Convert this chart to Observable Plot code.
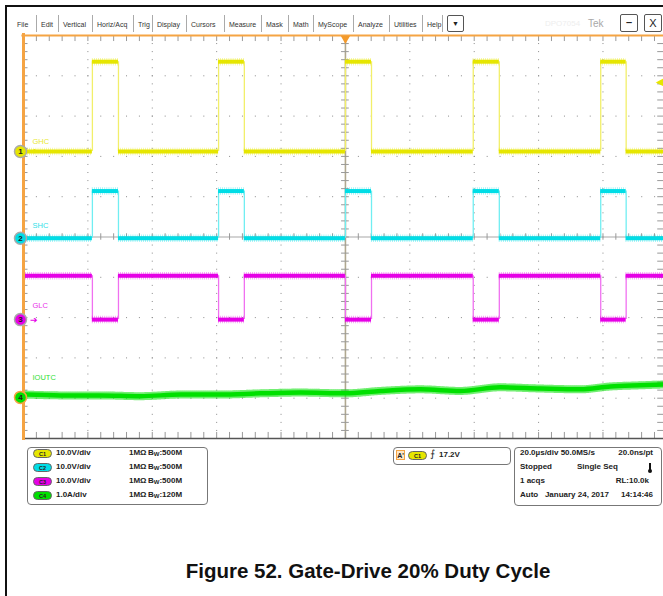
<!DOCTYPE html>
<html><head><meta charset="utf-8">
<script src="https://cdn.jsdelivr.net/npm/d3@7"></script>
<script src="https://cdn.jsdelivr.net/npm/@observablehq/plot@0.6"></script>
<style>
html,body{margin:0;padding:0;background:#fff;overflow:hidden;}
#page{position:relative;width:663px;height:596px;font-family:"Liberation Sans",Arial,sans-serif;background:#fff;}
#chart{position:absolute;left:0;top:0;}
#chart svg{overflow:visible;background:transparent;}
.abs{position:absolute;white-space:nowrap;}
.menu{font-size:7px;color:#333;top:20px;line-height:9px;}
.sep{position:absolute;top:15px;width:1px;height:17px;background:#aaa;}
.box{position:absolute;border:1px solid #777;border-radius:4px;}
.ro{font-size:8px;font-weight:bold;color:#222;line-height:10px;}
.badge{position:absolute;width:19px;height:9px;border-radius:5px;font-size:5.5px;line-height:9px;text-align:center;color:#222;border:1px solid #666;box-sizing:border-box;font-weight:bold;}
</style></head><body>
<div id="page">
  <div id="chart"></div>
  <div id="overlay"></div>
</div>
<script>
// ---------------- data ----------------
const menuItems = ["File","Edit","Vertical","Horiz/Acq","Trig","Display","Cursors","Measure","Mask","Math","MyScope","Analyze","Utilities","Help"];
const channelNames = ["GHC","SHC","GLC","IOUTC"];
const channelNumbers = ["1","2","3","4"];
const channelColors = ["#e6e600","#00dde6","#e600e6","#00e000"];
const edgeColors = ["#f2ef6a","#70eef2","#f070f0","#00e000"];
const labelColors = ["#e8e830","#30e0e8","#e830e8","#30e030"];
const unitsPerDiv = [10, 10, 10, 1];              // V/div, V/div, V/div, A/div
const channelOffsetDiv = [2.12, -0.03, -2.05, -3.98]; // ground marker position, divisions
const timeDomain = [-100, 98.8];                   // µs shown (20 µs/div)
const pulseRise = [-78.6, -39.4, 0, 39.7, 79.3];  // µs
const pulseFall = [-70.5, -31.4, 8.1, 47.8, 87.2]; // µs
const ghcLevels = [0, 22.3];   // V low, high
const shcLevels = [0, 11.7];   // V low, high
const glcLevels = [10.9, 0];   // V outside pulse, inside pulse
const ioutTime = [-99.4,-88.5,-76,-63.7,-51.2,-38.8,-26.4,-14,0,10.9,23.3,35.7,48.1,60.6,73,82.3,91.6,98.8];
const ioutAmps = [0.07,0.05,0.05,0.03,0.07,0.07,0.10,0.12,0.10,0.16,0.20,0.16,0.25,0.22,0.20,0.27,0.30,0.32];
const triggerLevel = 17.2;     // V on C1
const gridTimes = [-80,-60,-40,-20,20,40,60,80];
const gridDivs = [-4,-3,-2,-1,1,2,3,4];
const leftReadout = [["C1","10.0V/div","500M"],["C2","10.0V/div","500M"],["C3","10.0V/div","500M"],["C4","1.0A/div","120M"]];
const caption = "Figure 52. Gate-Drive 20% Duty Cycle";

// ---------------- helpers ----------------
const pxPerDiv = 40.3;
const toDiv = (ch, v) => channelOffsetDiv[ch] + v / unitsPerDiv[ch];
function levelSegments(ch, outside, inside) {
  const segs = []; let t = timeDomain[0];
  pulseRise.forEach((r, i) => {
    segs.push({x1: t, x2: r, y: toDiv(ch, outside)});
    segs.push({x1: r, x2: pulseFall[i], y: toDiv(ch, inside)});
    t = pulseFall[i];
  });
  segs.push({x1: t, x2: timeDomain[1], y: toDiv(ch, outside)});
  return segs;
}
function edgeSegments(ch, a, b) {
  return pulseRise.concat(pulseFall).map(x => ({x, y1: toDiv(ch, a), y2: toDiv(ch, b)}));
}
const levelCh = [[0, ghcLevels],[1, shcLevels],[2, glcLevels]];
const iout = ioutTime.map((t, i) => ({x: t, y: toDiv(3, ioutAmps[i])}));
const minorT = d3.range(-96, 97, 4);
const minorD = d3.range(-4.8, 4.81, 0.2);
const markers = channelNumbers.map((n, i) => ({n, i, y: channelOffsetDiv[i]}));
const labelLiftPx = [10, 13, 14, 20];
const labels = channelNames.map((name, i) => ({name, i, y: channelOffsetDiv[i] + labelLiftPx[i] / pxPerDiv}));

const marks = [];
// grid
marks.push(Plot.ruleX(gridTimes, {stroke: "#8a8a8a", strokeWidth: 1, strokeDasharray: "1,7.06"}));
marks.push(Plot.ruleY(gridDivs, {stroke: "#8a8a8a", strokeWidth: 1, strokeDasharray: "1,11.88"}));
// center cross with ticks
marks.push(Plot.ruleX([0], {stroke: "#b0a890", strokeWidth: 1.6}));
marks.push(Plot.ruleY([0], {stroke: "#a8a8a8", strokeWidth: 1.2}));
marks.push(Plot.ruleX(minorT, {y1: -0.08, y2: 0.08, stroke: "#999", strokeWidth: 1}));
marks.push(Plot.ruleY(minorD, {x1: -1.2, x2: 1.2, stroke: "#999", strokeWidth: 1}));
// edge ticks
marks.push(Plot.ruleX(minorT, {y1: 5, y2: 4.85, stroke: "#999", strokeWidth: 1}));
marks.push(Plot.ruleX(minorT, {y1: -5, y2: -4.85, stroke: "#999", strokeWidth: 1}));
marks.push(Plot.ruleY(minorD, {x1: -100, x2: -98.6, stroke: "#999", strokeWidth: 1}));
marks.push(Plot.ruleY(minorD, {x1: 97.0, x2: 98.8, stroke: "#999", strokeWidth: 1}));
// traces
levelCh.forEach(([ch, lv]) => {
  marks.push(Plot.ruleX(edgeSegments(ch, lv[0], lv[1]), {x: "x", y1: "y1", y2: "y2", stroke: edgeColors[ch], strokeWidth: 1.3}));
  const segs = levelSegments(ch, lv[0], lv[1]);
  marks.push(Plot.ruleY(segs, {x1: "x1", x2: "x2", y: "y", stroke: channelColors[ch], strokeWidth: 4}));
  marks.push(Plot.ruleY(segs, {x1: "x1", x2: "x2", y: "y", stroke: channelColors[ch], strokeWidth: 7.5, strokeDasharray: "0.6,1.5", strokeOpacity: 0.55}));
});
marks.push(Plot.line(iout, {x: "x", y: "y", stroke: channelColors[3], strokeWidth: 4.5, curve: "monotone-x"}));
marks.push(Plot.line(iout, {x: "x", y: "y", stroke: channelColors[3], strokeWidth: 8, curve: "monotone-x", strokeDasharray: "0.6,1.5", strokeOpacity: 0.55}));
// frame
marks.push(Plot.ruleY([-5], {stroke: "#555", strokeWidth: 1.5}));
marks.push(Plot.ruleY([5], {x1: -100.5, x2: 98.8, stroke: "#f5a443", strokeWidth: 2.2}));
marks.push(Plot.ruleX([-100], {y1: -5.05, y2: 5.05, stroke: "#f5a443", strokeWidth: 3}));
// trigger markers
marks.push(Plot.dot([0], {x: d => d, y: 5, symbol: "triangle", r: 3.5, rotate: 180, fill: "#f39a2b", stroke: "none", dy: 3}));
marks.push(Plot.text([triggerLevel], {x: timeDomain[1], y: d => toDiv(0, d), text: () => "◀", fill: channelColors[0], fontSize: 10, textAnchor: "end"}));
// channel labels
marks.push(Plot.text(labels, {x: -100, y: "y", text: "name", dx: 9, fill: d => labelColors[d.i], fontSize: 7.5, textAnchor: "start"}));
// channel markers
marks.push(Plot.text([markers[0], markers[2]], {x: -100, y: "y", text: () => "➔", dx: 10, fill: d => channelColors[d.i], fontSize: 9}));
marks.push(Plot.dot(markers, {x: -100, y: "y", r: 6, dx: -3, fill: d => channelColors[d.i], stroke: d => d.i === 3 ? "#f5a443" : "#aaa", strokeWidth: 1.5}));
marks.push(Plot.text(markers, {x: -100, y: "y", text: "n", dx: -3, fill: "#222", fontSize: 8, fontWeight: "bold"}));

const chart = Plot.plot({
  width: 663, height: 445,
  marginLeft: 23, marginRight: 0, marginTop: 35, marginBottom: 7,
  x: {domain: timeDomain, axis: null},
  y: {domain: [-5, 5], axis: null},
  style: {background: "transparent", fontFamily: "Liberation Sans, Arial, sans-serif"},
  marks
});
document.getElementById("chart").appendChild(chart);

// ---------------- overlay html ----------------
const ov = document.getElementById("overlay");
function add(html) { ov.insertAdjacentHTML("beforeend", html); }
// page frame
add('<div class="abs" style="left:6px;top:5px;width:657px;height:1.5px;background:#111"></div>');
add('<div class="abs" style="left:5px;top:5px;width:1.5px;height:591px;background:#111"></div>');
// menu bar
const menuX = [17,41,63,97,138,157,191,229,266,293,318,358,394,427];
menuItems.forEach((m, i) => {
  add(`<div class="abs menu" style="left:${menuX[i]}px">${m}</div>`);
  const sx = (i < menuItems.length - 1 ? menuX[i+1] : 447) - 5;
  add(`<div class="sep" style="left:${sx}px"></div>`);
});
add('<div class="abs" style="left:447px;top:15px;width:15px;height:15px;border:1px solid #555;border-radius:2px;font-size:7px;line-height:15px;text-align:center;color:#222">▼</div>');
add('<div class="abs" style="left:545px;top:19px;font-size:8px;color:#eee">DPO7054</div>');
add('<div class="abs" style="left:588px;top:18px;font-size:10px;color:#a8a8a8">Tek</div>');
add('<div class="abs" style="left:620px;top:14px;width:16px;height:16px;border:1px solid #555;border-radius:2px;font-size:11px;line-height:14px;text-align:center;color:#222;font-weight:bold">–</div>');
add('<div class="abs" style="left:644px;top:14px;width:16px;height:16px;border:1px solid #555;border-radius:2px;font-size:11px;line-height:16px;text-align:center;color:#222">X</div>');

// left readout
add('<div class="box" style="left:27px;top:447px;width:179px;height:56px"></div>');
leftReadout.forEach((r, i) => {
  const y = 448 + i * 14;
  add(`<div class="badge" style="left:33px;top:${y+1}px;background:${channelColors[i]}">${r[0]}</div>`);
  add(`<div class="abs ro" style="left:56px;top:${y}px">${r[1]}</div>`);
  add(`<div class="abs ro" style="left:129px;top:${y}px">1MΩ</div>`);
  add(`<div class="abs ro" style="left:148px;top:${y}px">B<sub style="font-size:6px;vertical-align:-1px">W</sub>:${r[2]}</div>`);
});
// trigger readout
add('<div class="box" style="left:393px;top:447px;width:116px;height:16px"></div>');
add('<div class="abs ro" style="left:396px;top:450px;width:9px;height:10px;border:1px solid #f5a443;background:#fde7c7;font-size:7px;line-height:10px;text-align:center;box-sizing:border-box">A\'</div>');
add(`<div class="badge" style="left:408px;top:451px;background:${channelColors[0]}">C1</div>`);
add('<div class="abs ro" style="left:430px;top:449px;font-size:10px;font-weight:normal">⨍</div>');
add(`<div class="abs ro" style="left:439px;top:450px">${triggerLevel.toFixed(1)}V</div>`);
// acquisition readout
add('<div class="box" style="left:514px;top:447px;width:146px;height:57px"></div>');
add('<div class="abs ro" style="left:520px;top:448px">20.0µs/div 50.0MS/s</div>');
add('<div class="abs ro" style="right:10px;top:448px">20.0ns/pt</div>');
add('<div class="abs ro" style="left:520px;top:462px">Stopped</div>');
add('<div class="abs ro" style="left:577px;top:462px">Single Seq</div>');
add('<div class="abs" style="left:649px;top:463px;width:2px;height:8px;background:#111"></div>');
add('<div class="abs" style="left:648px;top:469px;width:4px;height:4px;border-radius:2px;background:#111"></div>');
add('<div class="abs ro" style="left:520px;top:476px">1 acqs</div>');
add('<div class="abs ro" style="right:14px;top:476px">RL:10.0k</div>');
add('<div class="abs ro" style="left:520px;top:490px">Auto&nbsp;&nbsp;&nbsp;January 24, 2017</div>');
add('<div class="abs ro" style="right:10px;top:490px">14:14:46</div>');
// caption
add(`<div class="abs" style="left:0;width:736px;top:559px;text-align:center;font-size:20.5px;font-weight:bold;color:#111">${caption}</div>`);
</script>
</body></html>
